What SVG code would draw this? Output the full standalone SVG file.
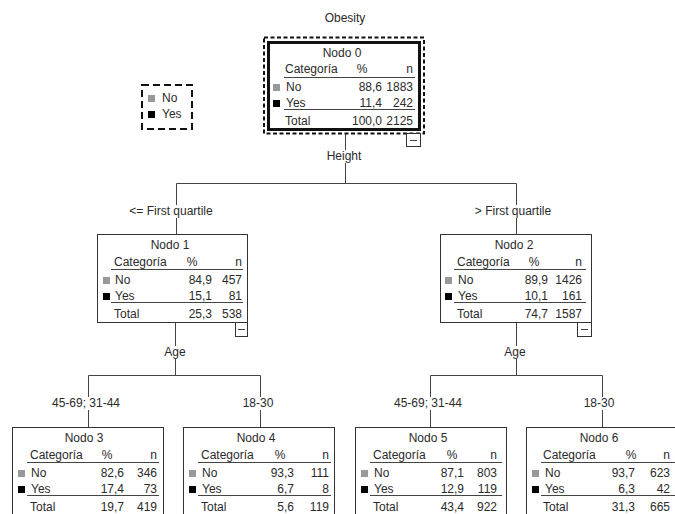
<svg xmlns="http://www.w3.org/2000/svg" width="675" height="514" viewBox="0 0 675 514">
<style>
text{font-family:"Liberation Sans",Arial,sans-serif;font-size:12px;fill:#2a2a2a}
.m{text-anchor:middle}
.e{text-anchor:end}
.box{fill:#fff;stroke:#333;stroke-width:1}
.thick{fill:#fff;stroke:#111;stroke-width:3}
.dash{fill:none;stroke:#111;stroke-width:2;stroke-dasharray:4 2.5}
.rule{stroke:#444;stroke-width:1}
.con{fill:none;stroke:#444;stroke-width:1}
.bg{fill:#fff}
.gray{fill:#999}
.blk{fill:#000}
.mini{fill:#fff;stroke:#333;stroke-width:1}
</style>
<text class="m" x="345" y="22">Obesity</text>

<g id="legend">
<rect x="142" y="85" width="50" height="44" fill="none" stroke="#111" stroke-width="2" stroke-dasharray="7 4"/>
<rect class="gray" x="148" y="95" width="7" height="7"/>
<text x="162" y="102">No</text>
<rect class="blk" x="148" y="111" width="7" height="7"/>
<text x="162" y="118">Yes</text>
</g>

<g id="connectors">
<path class="con" d="M345.5 134V183.5M176.5 183.5H516.5M176.5 183.5V234M516.5 183.5V234"/>
<path class="con" d="M175.5 337V375.5M88.5 375.5H260.5M88.5 375.5V427M260.5 375.5V427"/>
<path class="con" d="M516.5 337V375.5M430.5 375.5H602.5M430.5 375.5V427M602.5 375.5V427"/>
<path class="con" d="M175.5 323V337M516.5 323V337"/>
<rect class="bg" x="326" y="150" width="36" height="13"/>
<text class="m" x="344" y="160">Height</text>
<rect class="bg" x="129" y="205" width="85" height="13"/>
<text class="m" x="171" y="215">&lt;= First quartile</text>
<rect class="bg" x="475" y="205" width="77" height="13"/>
<text class="m" x="513" y="215">&gt; First quartile</text>
<rect class="bg" x="164" y="346" width="23" height="13"/>
<text class="m" x="175" y="356">Age</text>
<rect class="bg" x="504" y="346" width="23" height="13"/>
<text class="m" x="515" y="356">Age</text>
<rect class="bg" x="52" y="397" width="69" height="13"/>
<text class="m" x="86" y="407">45-69; 31-44</text>
<rect class="bg" x="243" y="397" width="31" height="13"/>
<text class="m" x="258" y="407">18-30</text>
<rect class="bg" x="394" y="397" width="69" height="13"/>
<text class="m" x="428" y="407">45-69; 31-44</text>
<rect class="bg" x="584" y="397" width="31" height="13"/>
<text class="m" x="599" y="407">18-30</text>
</g>

<g id="node0">
<rect class="dash" x="264" y="37.5" width="160" height="96"/>
<rect class="thick" x="268.5" y="42.5" width="151" height="87"/>
<rect class="mini" x="406.5" y="133.5" width="14" height="13"/>
<path class="rule" d="M410 140.5H417"/>
<text class="m" x="342" y="57">Nodo 0</text>
<text x="285" y="73">Categoría</text>
<text class="m" x="362" y="73">%</text>
<text class="e" x="413" y="73">n</text>
<path class="rule" d="M284 77.5H415"/>
<rect class="gray" x="273" y="84" width="7" height="7"/>
<text x="286" y="91">No</text>
<text class="e" x="382" y="91">88,6</text>
<text class="e" x="413" y="91">1883</text>
<rect class="blk" x="273" y="100" width="7" height="7"/>
<text x="286" y="107">Yes</text>
<text class="e" x="382" y="107">11,4</text>
<text class="e" x="413" y="107">242</text>
<path class="rule" d="M284 109.5H415"/>
<text x="285" y="125">Total</text>
<text class="e" x="382" y="125">100,0</text>
<text class="e" x="413" y="125">2125</text>
</g>

<g id="node1">
<rect class="box" x="97.5" y="234.5" width="150" height="88"/>
<rect class="mini" x="235.5" y="322.5" width="12" height="14"/>
<path class="rule" d="M238 329.5H245"/>
<text class="m" x="170" y="249">Nodo 1</text>
<text x="114" y="266">Categoría</text>
<text class="m" x="192" y="266">%</text>
<text class="e" x="242" y="266">n</text>
<path class="rule" d="M111 269.5H243"/>
<rect class="gray" x="103" y="277" width="7" height="7"/>
<text x="115" y="284">No</text>
<text class="e" x="212" y="284">84,9</text>
<text class="e" x="242" y="284">457</text>
<rect class="blk" x="103" y="293" width="7" height="7"/>
<text x="115" y="300">Yes</text>
<text class="e" x="212" y="300">15,1</text>
<text class="e" x="242" y="300">81</text>
<path class="rule" d="M111 302.5H243"/>
<text x="114" y="318">Total</text>
<text class="e" x="212" y="318">25,3</text>
<text class="e" x="242" y="318">538</text>
</g>

<g id="node2">
<rect class="box" x="440.5" y="234.5" width="151" height="88"/>
<rect class="mini" x="577.5" y="322.5" width="14" height="14"/>
<path class="rule" d="M581 329.5H588"/>
<text class="m" x="514" y="249">Nodo 2</text>
<text x="457" y="266">Categoría</text>
<text class="m" x="534" y="266">%</text>
<text class="e" x="582" y="266">n</text>
<path class="rule" d="M454 269.5H586"/>
<rect class="gray" x="445" y="277" width="7" height="7"/>
<text x="458" y="284">No</text>
<text class="e" x="548" y="284">89,9</text>
<text class="e" x="582" y="284">1426</text>
<rect class="blk" x="445" y="293" width="7" height="7"/>
<text x="458" y="300">Yes</text>
<text class="e" x="548" y="300">10,1</text>
<text class="e" x="582" y="300">161</text>
<path class="rule" d="M454 302.5H586"/>
<text x="457" y="318">Total</text>
<text class="e" x="548" y="318">74,7</text>
<text class="e" x="582" y="318">1587</text>
</g>

<g id="node3">
<rect class="box" x="12.5" y="427.5" width="151" height="92"/>
<text class="m" x="84" y="442">Nodo 3</text>
<text x="30" y="459">Categoría</text>
<text class="m" x="107" y="459">%</text>
<text class="e" x="157" y="459">n</text>
<path class="rule" d="M27 462.5H159"/>
<rect class="gray" x="18" y="470" width="7" height="7"/>
<text x="31" y="477">No</text>
<text class="e" x="124" y="477">82,6</text>
<text class="e" x="157" y="477">346</text>
<rect class="blk" x="18" y="486" width="7" height="7"/>
<text x="31" y="493">Yes</text>
<text class="e" x="124" y="493">17,4</text>
<text class="e" x="157" y="493">73</text>
<path class="rule" d="M27 495.5H159"/>
<text x="30" y="511">Total</text>
<text class="e" x="124" y="511">19,7</text>
<text class="e" x="157" y="511">419</text>
</g>

<g id="node4">
<rect class="box" x="183.5" y="427.5" width="151" height="92"/>
<text class="m" x="256" y="442">Nodo 4</text>
<text x="201" y="459">Categoría</text>
<text class="m" x="280" y="459">%</text>
<text class="e" x="329" y="459">n</text>
<path class="rule" d="M198 462.5H331"/>
<rect class="gray" x="189" y="470" width="7" height="7"/>
<text x="202" y="477">No</text>
<text class="e" x="294" y="477">93,3</text>
<text class="e" x="329" y="477">111</text>
<rect class="blk" x="189" y="486" width="7" height="7"/>
<text x="202" y="493">Yes</text>
<text class="e" x="294" y="493">6,7</text>
<text class="e" x="329" y="493">8</text>
<path class="rule" d="M198 495.5H331"/>
<text x="201" y="511">Total</text>
<text class="e" x="294" y="511">5,6</text>
<text class="e" x="329" y="511">119</text>
</g>

<g id="node5">
<rect class="box" x="355.5" y="427.5" width="151" height="92"/>
<text class="m" x="428" y="442">Nodo 5</text>
<text x="373" y="459">Categoría</text>
<text class="m" x="452" y="459">%</text>
<text class="e" x="497" y="459">n</text>
<path class="rule" d="M370 462.5H502"/>
<rect class="gray" x="361" y="470" width="7" height="7"/>
<text x="374" y="477">No</text>
<text class="e" x="464" y="477">87,1</text>
<text class="e" x="497" y="477">803</text>
<rect class="blk" x="361" y="486" width="7" height="7"/>
<text x="374" y="493">Yes</text>
<text class="e" x="464" y="493">12,9</text>
<text class="e" x="497" y="493">119</text>
<path class="rule" d="M370 495.5H502"/>
<text x="373" y="511">Total</text>
<text class="e" x="464" y="511">43,4</text>
<text class="e" x="497" y="511">922</text>
</g>

<g id="node6">
<rect class="box" x="526.5" y="427.5" width="151" height="92"/>
<text class="m" x="599" y="442">Nodo 6</text>
<text x="543" y="459">Categoría</text>
<text class="m" x="631" y="459">%</text>
<text class="e" x="670" y="459">n</text>
<path class="rule" d="M541 462.5H675"/>
<rect class="gray" x="532" y="470" width="7" height="7"/>
<text x="545" y="477">No</text>
<text class="e" x="635" y="477">93,7</text>
<text class="e" x="670" y="477">623</text>
<rect class="blk" x="532" y="486" width="7" height="7"/>
<text x="545" y="493">Yes</text>
<text class="e" x="635" y="493">6,3</text>
<text class="e" x="670" y="493">42</text>
<path class="rule" d="M541 495.5H675"/>
<text x="543" y="511">Total</text>
<text class="e" x="635" y="511">31,3</text>
<text class="e" x="670" y="511">665</text>
</g>
</svg>
